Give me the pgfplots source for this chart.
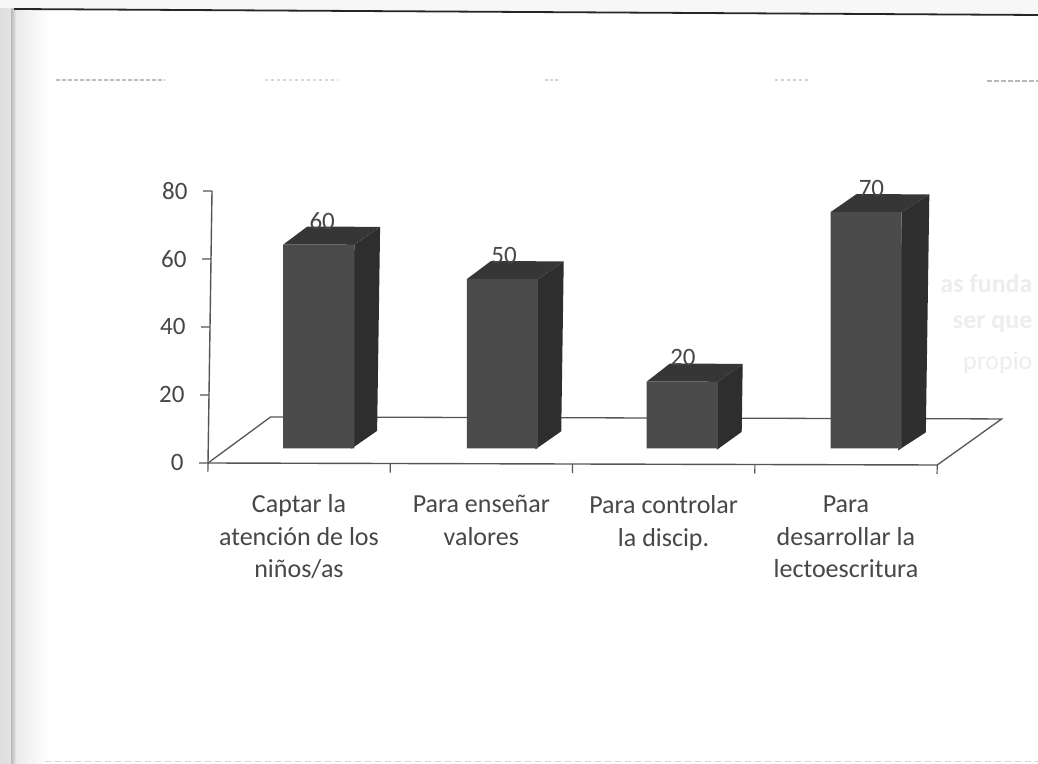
\documentclass[border=0pt]{standalone}
\usepackage{fontspec}
\setmainfont{Carlito}
\usepackage{pgfplots}
\pgfplotsset{compat=1.18}
\definecolor{frontc}{HTML}{4B4B4B}
\definecolor{sidec}{HTML}{2E2E2E}
\definecolor{topc}{HTML}{363636}
\definecolor{axisc}{HTML}{555555}
\definecolor{textc}{HTML}{474747}
\definecolor{ghost}{HTML}{EDEDED}
\begin{document}
\begin{tikzpicture}[x=1pt,y=1pt]
\useasboundingbox (0,0) rectangle (1038,763);
\fill[white] (0,0) rectangle (1038,763);
% scan edge
\fill[left color=black!13,right color=black!11] (0,0) rectangle (11,763);
\fill[left color=black!28,right color=black!8] (11,0) rectangle (16,763);
\fill[left color=black!8,right color=white] (16,0) rectangle (50,763);
\fill[black!3] (0,755) -- (1038,749) -- (1038,763) -- (0,763) -- cycle;
\draw[black!85,line width=1.8pt] (14,754) -- (1038,748);
\draw[black!25,line width=1.2pt,dash pattern=on 4pt off 2pt] (56,683) -- (165,683);
\draw[black!15,line width=1.2pt,dash pattern=on 3pt off 3pt] (265,683) -- (338,683);
\draw[black!18,line width=1.2pt,dash pattern=on 3pt off 2pt] (545,683) -- (560,683);
\draw[black!18,line width=1.2pt,dash pattern=on 3pt off 3pt] (775,683) -- (810,683);
\draw[black!28,line width=1.2pt,dash pattern=on 5pt off 2pt] (987,682) -- (1038,682);
\draw[black!16,line width=1pt,dash pattern=on 6pt off 4pt] (45,2) -- (1038,2);
\node[text=ghost,font=\fontsize{26}{26}\selectfont\bfseries,anchor=east] at (1036,480) {as funda};
\node[text=ghost,font=\fontsize{26}{26}\selectfont\bfseries,anchor=east] at (1036,439) {ser que};
\node[text=ghost,font=\fontsize{26}{26}\selectfont,anchor=east] at (1036,400) {propio};
\begin{axis}[
  at={(208pt,300pt)}, anchor=origin,
  x={(182.3pt,-0.5pt)}, y={(0.05pt,3.4pt)},
  xmin=0, xmax=4, ymin=0, ymax=80,
  clip=false,
  axis lines=left,
  axis line style={-,draw=axisc,line width=1.4pt},
  tick style={draw=axisc,line width=1.2pt},
  major tick length=9pt,
  tick align=outside,
  ytick={0,20,40,60,80},
  xtick={0,1,2,3,4},
  x tick label as interval,
  xticklabels={{Captar la\\atención de los\\niños/as},{Para enseñar\\valores},{Para controlar\\la discip.},{Para\\desarrollar la\\lectoescritura}},
  x tick label style={align=center,font=\fontsize{26}{32.5}\selectfont,text=textc,anchor=north,yshift=-19pt},
  y tick label style={font=\fontsize{25}{27}\selectfont,text=textc,xshift=-12pt},
  /pgf/number format/assume math mode=true,
]
% floor
\addplot[draw=axisc,line width=1.3pt] coordinates {(0,0) (0.34,13.6) (4.35,13.6) (4,0)};
% value labels, behind the bars
\addplot[draw=none,mark=none,point meta=y,nodes near coords,
  every node near coord/.append style={anchor=center,yshift=38.5pt,font=\fontsize{25}{27}\selectfont,text=textc,
  /pgf/number format/assume math mode=true}]
  coordinates {(0.61,60) (1.61,50) (2.60,20) (3.62,70)};
% side faces
\addplot[fill=sidec,draw=none] coordinates {(0.785,4.3) (0.925,9.6) (0.925,69.6) (0.785,64.3)} -- cycle;
\addplot[fill=sidec,draw=none] coordinates {(1.795,4.3) (1.935,9.6) (1.935,59.6) (1.795,54.3)} -- cycle;
\addplot[fill=sidec,draw=none] coordinates {(2.790,4.3) (2.925,9.6) (2.925,29.6) (2.790,24.3)} -- cycle;
\addplot[fill=sidec,draw=none] coordinates {(3.785,4.3) (3.935,9.6) (3.935,79.6) (3.785,74.3)} -- cycle;
% top faces
\addplot[fill=topc,draw=none] coordinates {(0.395,64.3) (0.785,64.3) (0.925,69.6) (0.525,69.6)} -- cycle;
\addplot[fill=topc,draw=none] coordinates {(1.405,54.3) (1.795,54.3) (1.935,59.6) (1.535,59.6)} -- cycle;
\addplot[fill=topc,draw=none] coordinates {(2.400,24.3) (2.790,24.3) (2.925,29.6) (2.525,29.6)} -- cycle;
\addplot[fill=topc,draw=none] coordinates {(3.395,74.3) (3.785,74.3) (3.935,79.6) (3.535,79.6)} -- cycle;
% front faces, from the values
\addplot[ybar,bar width=0.39,bar shift=0pt,fill=frontc,draw=none,yshift=14.6pt,xshift=0.2pt]
  coordinates {(0.59,60) (1.60,50) (2.595,20) (3.59,70)};
\end{axis}
\end{tikzpicture}
\end{document}
